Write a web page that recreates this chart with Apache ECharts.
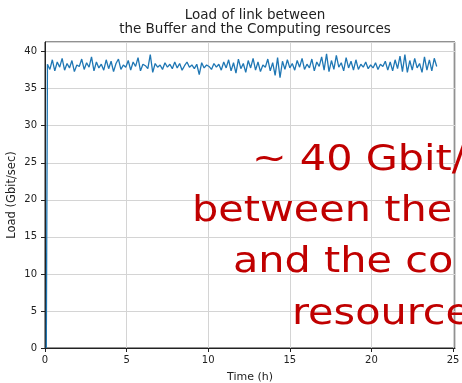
<!DOCTYPE html>
<html>
<head>
<meta charset="utf-8">
<script src="https://cdn.jsdelivr.net/npm/echarts@6/dist/echarts.min.js"></script>
<style>html,body{margin:0;padding:0;background:#fff}#c{width:462px;height:383px}</style>
</head>
<body>
<div id="c"></div>
<script>
const titleLines = ["Load of link between", "the Buffer and the Computing resources"];
const xName = "Time (h)";
const yName = "Load (Gbit/sec)";
const xTicks = [0, 5, 10, 15, 20, 25];
const yTicks = [0, 5, 10, 15, 20, 25, 30, 35, 40];
const startPoint = [0.08, 0];
const sampleStep = 0.15; // hours between samples
const loadValues = [
  38.3, 37.6, 38.9, 37.4, 38.6, 37.9,
  39.1, 37.5, 38.4, 37.8, 38.8, 37.3, 38.2,
  38.0, 39.0, 37.6, 38.5, 37.9, 39.3, 37.4,
  38.6, 37.8, 38.3, 37.5, 38.9, 37.7,
  38.7, 37.3, 38.4, 39.0, 37.6, 38.2, 37.9,
  38.8, 37.5, 38.6, 38.0, 39.2, 37.4, 38.3,
  38.1, 37.7, 39.6, 37.2, 38.4, 37.9,
  38.2, 37.6, 38.5, 37.9, 38.3, 37.7, 38.6,
  37.8, 38.4, 37.5, 38.1, 38.6, 37.9, 38.2,
  37.7, 38.3, 36.9, 38.5, 37.8, 38.2,
  38.0, 37.6, 38.4, 37.9, 38.3, 37.5, 38.6,
  37.8, 38.9, 37.4, 38.5, 37.1, 39.0, 37.7,
  38.4, 37.2, 38.8, 37.8, 39.1, 37.5,
  38.6, 37.3, 38.2, 37.9, 39.0, 37.4, 38.5,
  36.8, 39.2, 36.5, 38.7, 37.6, 38.9, 37.8,
  38.4, 37.5, 38.8, 37.9, 39.1, 37.6,
  38.3, 37.8, 39.0, 37.4, 38.6, 38.0, 39.3,
  37.5, 39.7, 37.3, 38.8, 37.6, 39.5, 37.9,
  38.5, 37.4, 39.2, 37.8, 38.7, 37.5,
  38.9, 37.6, 38.3, 37.9, 38.6, 37.7, 38.2,
  37.8, 38.5, 37.6, 38.3, 38.0, 38.7, 37.5,
  38.6, 37.4, 38.9, 37.7, 39.4, 37.3,
  39.6, 37.2, 38.8, 37.5, 39.1, 37.8, 38.4,
  37.2, 39.3, 37.5, 38.9, 37.4, 39.1, 38.0
];
const noteLines = [
  {text: "~ 40 Gbit/s", x: 252, y: 179},
  {text: "between the", x: 192, y: 230},
  {text: "and the co", x: 233, y: 281},
  {text: "resource", x: 292, y: 333}
];

const seriesData = [startPoint].concat(loadValues.map((v, i) => [+(sampleStep * (i + 1)).toFixed(2), v]));

const chart = echarts.init(document.getElementById('c'), null, {renderer: 'canvas'});
const font = 'DejaVu Sans';
chart.setOption({
  animation: false,
  backgroundColor: '#fff',
  title: {
    text: titleLines.join('\n'),
    left: 250, top: 3, textAlign: 'center',
    textStyle: {fontFamily: font, fontSize: 13.5, fontWeight: 'normal', color: '#222', lineHeight: 14}
  },
  grid: {left: 45, top: 42, right: 7, bottom: 35, show: true, borderColor: '#222', borderWidth: 1,
    containLabel: false, outerBoundsMode: 'none'},
  xAxis: {
    type: 'value', min: 0, max: 25.12, interval: 5,
    name: xName, nameLocation: 'middle', nameGap: 24, nameMoveOverlap: false,
    nameTextStyle: {fontFamily: font, fontSize: 11, color: '#222'},
    axisLine: {show: true, onZero: false, lineStyle: {color: '#222', width: 1}},
    axisTick: {show: true, length: 4, lineStyle: {color: '#222'}},
    axisLabel: {fontFamily: font, fontSize: 10, color: '#222', margin: 7, showMaxLabel: false,
      formatter: v => xTicks.includes(v) ? String(v) : ''},
    splitLine: {show: true, lineStyle: {color: '#d4d4d4', width: 1}}
  },
  yAxis: {
    type: 'value', min: 0, max: 41.3, interval: 5,
    name: yName, nameLocation: 'middle', nameGap: 27, nameMoveOverlap: false,
    nameTextStyle: {fontFamily: font, fontSize: 11.5, color: '#222'},
    axisLine: {show: true, onZero: false, lineStyle: {color: '#222', width: 1}},
    axisTick: {show: true, length: 4, lineStyle: {color: '#222'}},
    axisLabel: {fontFamily: font, fontSize: 10, color: '#222', margin: 8, showMaxLabel: false,
      formatter: v => yTicks.includes(v) ? String(v) : ''},
    splitLine: {show: true, lineStyle: {color: '#d4d4d4', width: 1}}
  },
  series: [{
    type: 'line', data: seriesData, showSymbol: false, smooth: false,
    lineStyle: {color: '#1f77b4', width: 1.3}, itemStyle: {color: '#1f77b4'}
  }],
  graphic: noteLines.map(l => ({
    type: 'text', x: l.x, y: l.y, scaleX: 1.15, z: 100,
    style: {text: l.text, fill: '#c00000', fontFamily: font, fontSize: 36, align: 'left', verticalAlign: 'bottom'}
  }))
});
</script>
</body>
</html>
